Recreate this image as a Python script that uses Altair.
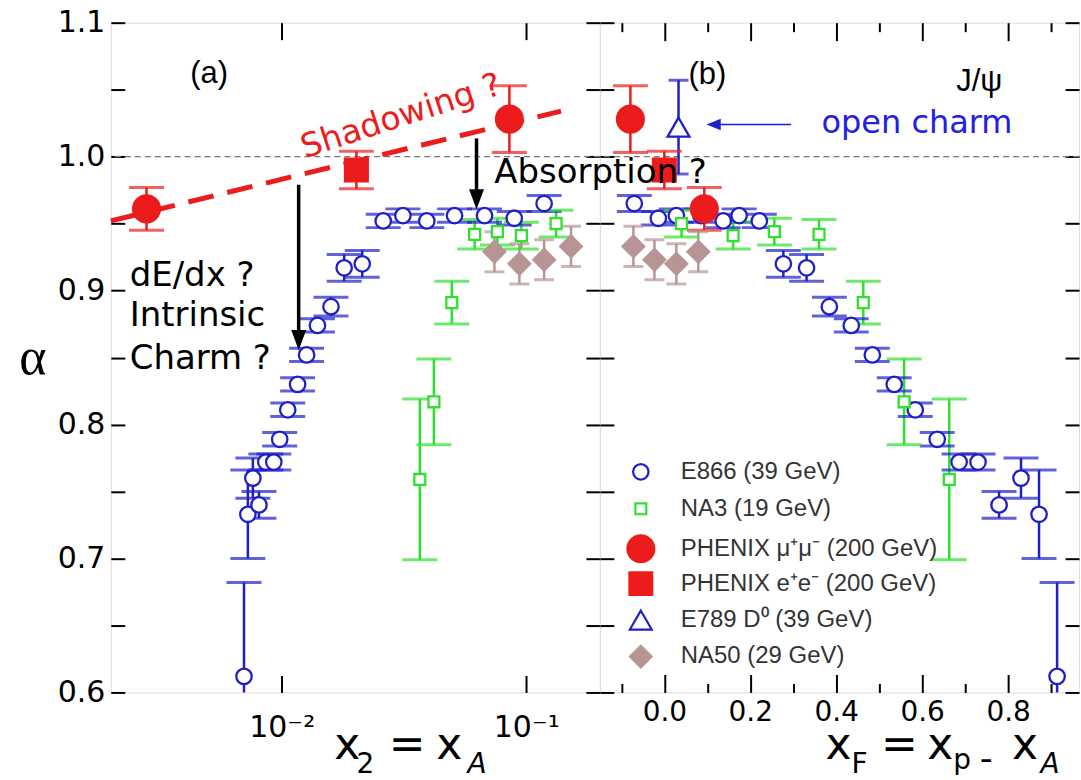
import altair as alt
import pandas as pd

# ---------------- data ----------------
SERIES = ["E866 (39 GeV)", "NA3 (19 GeV)", "PHENIX μ⁺μ⁻ (200 GeV)",
          "PHENIX e⁺e⁻ (200 GeV)", "E789 D⁰ (39 GeV)", "NA50 (29 GeV)"]

# E866 J/psi: ordered by increasing x2 (= decreasing xF)
e866_x2 = [0.00701, 0.00727, 0.00762, 0.00807, 0.00861, 0.00928, 0.00981,
           0.01058, 0.01161, 0.01264, 0.01400, 0.01590, 0.01800, 0.02134,
           0.02600, 0.03130, 0.03920, 0.05090, 0.06750, 0.08930, 0.11830]
e866_xf = [0.914, 0.872, 0.830, 0.779, 0.730, 0.686, 0.635, 0.584, 0.535,
           0.484, 0.435, 0.384, 0.331, 0.277, 0.221, 0.174, 0.137, 0.085,
           0.028, -0.014, -0.070]
e866_alpha = [0.612, 0.733, 0.760, 0.740, 0.772, 0.772, 0.789, 0.811, 0.830,
              0.852, 0.874, 0.888, 0.917, 0.920, 0.952, 0.956, 0.952, 0.956,
              0.956, 0.954, 0.965]
e866_err = [0.070, 0.033, 0.015, 0.010, 0.006, 0.006, 0.005, 0.005, 0.005,
            0.005, 0.005, 0.007, 0.010, 0.010, 0.005, 0.005, 0.005, 0.005,
            0.005, 0.005, 0.006]

# NA3
na3_x2 = [0.0367, 0.0419, 0.0496, 0.0615, 0.0762, 0.0955, 0.1324]
na3_xf = [0.663, 0.558, 0.463, 0.360, 0.256, 0.160, 0.040]
na3_alpha = [0.759, 0.817, 0.891, 0.942, 0.944, 0.941, 0.950]
na3_err = [0.060, 0.032, 0.016, 0.011, 0.010, 0.010, 0.010]

# NA50
na50_x2 = [0.0741, 0.0937, 0.1183, 0.1524]
na50_xf = [0.079, 0.028, -0.023, -0.072]
na50_alpha = [0.929, 0.920, 0.923, 0.933]
na50_err = [0.015, 0.015, 0.015, 0.015]

# PHENIX mu+mu-
phmu_x2 = [0.0028, 0.0853]
phmu_xf = [0.093, -0.079]
phmu_alpha = [0.961, 1.028]
phmu_err = [0.016, 0.025]

# PHENIX e+e-
phee_x2 = [0.0202]
phee_xf = [0.000]
phee_alpha = [0.990]
phee_err = [0.014]

# E789 D0 (open charm), only in panel (b)
e789_xf = [0.033]
e789_alpha = [1.022]
e789_err = [0.035]

# "Shadowing ?" dashed line (panel a)
shadow_x2 = [0.002, 0.1387]
shadow_alpha = [0.952, 1.034]

# ---------------- styling ----------------
BLUE = "#1f1fc8"
GREEN = "#2fe02f"
RED = "#ec1c1c"
BROWN = "#b89595"
STROKES = [BLUE, GREEN, RED, RED, BLUE, BROWN]
FILLS = ["white", "white", RED, RED, "white", BROWN]
SHAPES = ["circle", "square", "circle", "square", "triangle-up", "diamond"]
SIZES = [240, 120, 720, 520, 480, 470]
CAPS = {SERIES[0]: "wide", SERIES[1]: "wide", SERIES[2]: "wide",
        SERIES[3]: "wide", SERIES[4]: "narrow", SERIES[5]: "narrow"}

rows = []


def add(series, xa, xb, al, er):
    for panel, xs in (("a", xa), ("b", xb)):
        if xs is None:
            continue
        for xv, a, e in zip(xs, al, er):
            rows.append(dict(panel=panel, series=series, x=xv, alpha=a,
                             lo=a - e, hi=a + e, cap=CAPS[series]))


add(SERIES[0], e866_x2, e866_xf, e866_alpha, e866_err)
add(SERIES[1], na3_x2, na3_xf, na3_alpha, na3_err)
add(SERIES[5], na50_x2, na50_xf, na50_alpha, na50_err)
add(SERIES[2], phmu_x2, phmu_xf, phmu_alpha, phmu_err)
add(SERIES[3], phee_x2, phee_xf, phee_alpha, phee_err)
add(SERIES[4], None, e789_xf, e789_alpha, e789_err)
df = pd.DataFrame(rows)

W_A, W_B, H = 490, 480, 671
yscale = alt.Scale(domain=[0.6, 1.1], nice=False, zero=False)
xscale_a = alt.Scale(type="log", domain=[0.002, 0.2], nice=False)
xscale_b = alt.Scale(domain=[-0.15, 0.965], nice=False, zero=False)

Y_TICKS = [0.6, 0.65, 0.7, 0.75, 0.8, 0.85, 0.9, 0.95, 1.0, 1.05, 1.1]
Y_LABELS = [0.6, 0.7, 0.8, 0.9, 1.0, 1.1]

LEG = alt.Legend(orient="none", legendX=26, legendY=438, title=None,
                 labelFont="Liberation Sans", labelFontSize=24,
                 labelColor="#333333", symbolStrokeWidth=2.2, rowPadding=0,
                 labelOffset=25, padding=0, gridAlign="all", labelLimit=400)


def inward(orient, size, values):
    return alt.Axis(orient=orient, values=values, tickSize=size, offset=-size,
                    domain=False, labels=False, grid=False, ticks=True,
                    tickColor="black", tickWidth=2, title=None)


def carrier(data, xscale, xaxis, yaxis):
    return alt.Chart(data).mark_point(opacity=0).encode(
        x=alt.X("x:Q", scale=xscale, axis=xaxis),
        y=alt.Y("alpha:Q", scale=yscale, axis=yaxis))


def data_layers(p, xscale, legend):
    base = alt.Chart(df[df.panel == p])
    X = alt.X("x:Q", scale=xscale, axis=None)
    col = alt.Color("series:N", scale=alt.Scale(domain=SERIES, range=STROKES), legend=None)
    unity = alt.Chart(pd.DataFrame({"v": [1.0]})).mark_rule(
        color="#777777", strokeDash=[6, 4], strokeWidth=1.3).encode(
        y=alt.Y("v:Q", scale=yscale, axis=None))
    bars = base.mark_rule(strokeWidth=2.5, clip=True).encode(
        x=X, y=alt.Y("lo:Q", scale=yscale, axis=None), y2="hi:Q", color=col)
    caps = []
    for grp, sz in (("wide", 35), ("narrow", 20)):
        caps.append(base.transform_filter(alt.datum.cap == grp)
                    .transform_fold(["lo", "hi"], as_=["end", "val"])
                    .mark_tick(orient="horizontal", size=sz, thickness=3, clip=True)
                    .encode(x=X, y=alt.Y("val:Q", scale=yscale, axis=None), color=col))
    pts = base.mark_point(strokeWidth=2.3, opacity=1).encode(
        x=X, y=alt.Y("alpha:Q", scale=yscale, axis=None),
        stroke=alt.Stroke("series:N", scale=alt.Scale(type="ordinal", domain=SERIES, range=STROKES), legend=legend),
        fill=alt.Fill("series:N", scale=alt.Scale(type="ordinal", domain=SERIES, range=FILLS), legend=legend),
        shape=alt.Shape("series:N", scale=alt.Scale(type="ordinal", domain=SERIES, range=SHAPES), legend=legend),
        size=alt.Size("series:N", scale=alt.Scale(type="ordinal", domain=SERIES, range=SIZES), legend=legend))
    return [unity, bars] + caps + [pts]


def ptext(txt, x, y, size, font="DejaVu Sans", style="normal", align="center",
          baseline="alphabetic", color="black"):
    return alt.Chart(pd.DataFrame({"t": [txt]})).mark_text(
        font=font, fontSize=size, fontStyle=style, align=align,
        baseline=baseline, color=color).encode(
        text="t:N", x=alt.value(x), y=alt.value(y))


ARROW_DOWN = "M-0.75,-2L0.75,-2L0,0Z"
ARROW_LEFT = "M0,0L2.2,-0.9L2.2,0.9Z"

# ---------------- panel (a) ----------------
da = df[df.panel == "a"]
Xa = lambda: alt.X("x:Q", scale=xscale_a, axis=None)
Ya = lambda f: alt.Y(f + ":Q", scale=yscale, axis=None)

shadow = alt.Chart(pd.DataFrame({"x": shadow_x2, "alpha": shadow_alpha})).mark_line(
    color=RED, strokeWidth=5, strokeDash=[26, 14]).encode(x=Xa(), y=Ya("alpha"))

arrows_a = pd.DataFrame({"x": [0.01173, 0.0626], "y0": [0.979, 1.0136],
                         "y1": [0.868, 0.972], "tip": [0.8556, 0.9607]})
shaft_a = alt.Chart(arrows_a).mark_rule(color="black", strokeWidth=3.5).encode(
    x=Xa(), y=Ya("y0"), y2="y1:Q")
head_a = alt.Chart(arrows_a).mark_point(shape=ARROW_DOWN, size=400, filled=True,
                                        color="black", opacity=1).encode(x=Xa(), y=Ya("tip"))

comic_a = pd.DataFrame({"t": ["dE/dx ?", "Intrinsic", "Charm ?"],
                        "x": [0.00239, 0.00239, 0.00239],
                        "alpha": [0.9107, 0.8809, 0.8489]})
comic_a_l = alt.Chart(comic_a).mark_text(font="DejaVu Sans", fontSize=34, align="left",
                                         baseline="middle", color="black").encode(
    x=Xa(), y=Ya("alpha"), text="t:N")
shadow_txt = alt.Chart(pd.DataFrame({"t": ["Shadowing ?"], "x": [0.03077], "alpha": [1.030]})).mark_text(
    font="DejaVu Sans", fontSize=33, angle=342, color=RED, baseline="middle").encode(
    x=Xa(), y=Ya("alpha"), text="t:N")
label_a = alt.Chart(pd.DataFrame({"t": ["(a)"], "x": [0.00505], "alpha": [1.062]})).mark_text(
    font="Liberation Sans", fontSize=31, baseline="middle").encode(x=Xa(), y=Ya("alpha"), text="t:N")

carriers_a = [
    carrier(da, xscale_a,
            alt.Axis(orient="bottom", values=[0.01, 0.1], ticks=False, domain=False, grid=False,
                     labelExpr="datum.value < 0.05 ? '10⁻²' : '10⁻¹'", labelFontSize=30,
                     labelFont="DejaVu Sans", labelColor="black", labelPadding=20, title=None),
            alt.Axis(orient="left", values=Y_LABELS, format=".1f", ticks=False, domain=False,
                     grid=False, labelFontSize=30, labelFont="DejaVu Sans", labelColor="black",
                     labelPadding=6, title=None)),
    carrier(da, xscale_a, inward("bottom", 17, [0.01, 0.1]), inward("left", 14, Y_TICKS)),
    carrier(da, xscale_a, inward("top", 17, [0.01, 0.1]), inward("right", 14, Y_TICKS)),
]

title_a = [
    ptext("α", -78, 352, 52, font="Liberation Serif"),
    ptext("x", 237, 738, 44),
    ptext("2", 255, 752, 28),
    ptext("=", 297, 738, 44),
    ptext("x", 339, 738, 44),
    ptext("A", 367, 752, 28, style="italic"),
]

panel_a = alt.layer(
    *data_layers("a", xscale_a, None), shadow, shaft_a, head_a, comic_a_l, shadow_txt, label_a,
    *carriers_a, *title_a
).resolve_axis(x="independent", y="independent").properties(width=W_A, height=H)

# ---------------- panel (b) ----------------
db = df[df.panel == "b"]
Xb = lambda: alt.X("x:Q", scale=xscale_b, axis=None)

arrow_b = pd.DataFrame({"x0": [0.295], "x1": [0.112], "tip": [0.098], "alpha": [1.024]})
shaft_b = alt.Chart(arrow_b).mark_rule(color=BLUE, strokeWidth=1.6).encode(
    x=alt.X("x0:Q", scale=xscale_b, axis=None), x2="x1:Q", y=Ya("alpha"))
head_b = alt.Chart(arrow_b).mark_point(shape=ARROW_LEFT, size=170, filled=True, color=BLUE,
                                       opacity=1).encode(
    x=alt.X("tip:Q", scale=xscale_b, axis=None), y=Ya("alpha"))
open_txt = alt.Chart(pd.DataFrame({"t": ["open charm"], "x": [0.588], "alpha": [1.025]})).mark_text(
    font="DejaVu Sans", fontSize=32, color="#2020e6", baseline="middle").encode(
    x=Xb(), y=Ya("alpha"), text="t:N")
labels_b = alt.Chart(pd.DataFrame({"t": ["(b)", "J/ψ"], "x": [0.100, 0.733],
                                   "alpha": [1.061, 1.056]})).mark_text(
    font="Liberation Sans", fontSize=31, baseline="middle").encode(x=Xb(), y=Ya("alpha"), text="t:N")
# "Absorption ?" starts in panel (a) and runs over the divider; drawn last so it sits on top
absorb_txt = alt.Chart(pd.DataFrame({"t": ["Absorption ?"], "x": [-0.3956], "alpha": [0.9875]})).mark_text(
    font="DejaVu Sans", fontSize=34, align="left", baseline="middle", color="black").encode(
    x=Xb(), y=Ya("alpha"), text="t:N")

XB_MAJOR = [0.0, 0.2, 0.4, 0.6, 0.8]
XB_MINOR = [-0.1, 0.1, 0.3, 0.5, 0.7, 0.9]
carriers_b = [
    carrier(db, xscale_b,
            alt.Axis(orient="bottom", values=XB_MAJOR, format=".1f", ticks=False, domain=False,
                     grid=False, labelFontSize=28, labelFont="DejaVu Sans", labelColor="black",
                     labelPadding=6, title=None),
            inward("left", 14, Y_TICKS)),
    carrier(db, xscale_b, inward("bottom", 18, XB_MAJOR), inward("right", 14, Y_TICKS)),
    carrier(db, xscale_b, inward("bottom", 9, XB_MINOR), None),
    carrier(db, xscale_b, inward("top", 18, XB_MAJOR), None),
    carrier(db, xscale_b, inward("top", 9, XB_MINOR), None),
]

title_b = [
    ptext("x", 239, 738, 44),
    ptext("F", 260, 752, 28),
    ptext("=", 300, 738, 44),
    ptext("x", 341, 738, 44),
    ptext("p", 363, 748, 28),
    ptext("-", 387, 749, 36),
    ptext("x", 426, 738, 44),
    ptext("A", 451, 752, 28, style="italic"),
]

panel_b = alt.layer(
    *data_layers("b", xscale_b, LEG), shaft_b, head_b, open_txt, labels_b, absorb_txt,
    *carriers_b, *title_b
).resolve_axis(x="independent", y="independent").properties(width=W_B, height=H)

chart = alt.hconcat(panel_a, panel_b, spacing=0, bounds="flush").resolve_scale(
    stroke="independent", fill="independent", shape="independent", size="independent"
).properties(
    padding={"left": 18, "top": 6, "right": 0, "bottom": 0},
    background="white",
).configure_view(stroke="black", strokeWidth=2).configure(font="DejaVu Sans")

chart.save("out.html", embed_options={"renderer": "svg", "actions": False})
